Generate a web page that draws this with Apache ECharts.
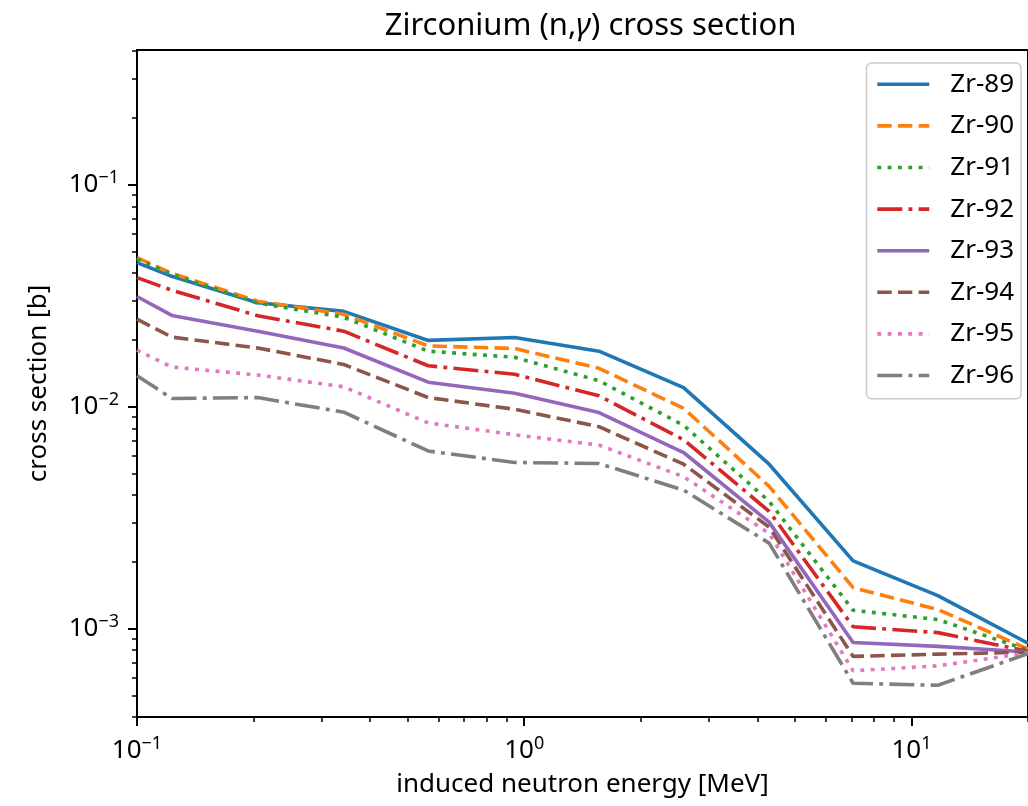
<!DOCTYPE html>
<html><head><meta charset="utf-8">
<script src="https://cdn.jsdelivr.net/npm/echarts@6/dist/echarts.min.js"></script>
<style>html,body{margin:0;padding:0;background:#fff}#c{width:1028px;height:806px}</style>
</head><body><div id="c"></div>
<script>
// induced neutron energy [MeV]
const energies = [0.1, 0.123, 0.205, 0.342, 0.565, 0.945, 1.56, 2.58, 4.29, 7.07, 11.7, 20];
// cross sections [b]
const zr89 = [0.0446, 0.0387, 0.0294, 0.0269, 0.0199, 0.0205, 0.0178, 0.0122, 0.00551, 0.00202, 0.00141, 0.00086];
const zr90 = [0.0470, 0.0399, 0.0299, 0.0261, 0.0188, 0.0183, 0.0149, 0.00984, 0.00438, 0.00153, 0.00122, 0.00081];
const zr91 = [0.0462, 0.0395, 0.0293, 0.0253, 0.0178, 0.0167, 0.0131, 0.00825, 0.00375, 0.00121, 0.00110, 0.00080];
const zr92 = [0.0382, 0.0335, 0.0257, 0.0219, 0.0153, 0.0140, 0.0112, 0.00710, 0.00338, 0.00102, 0.00096, 0.00079];
const zr93 = [0.0314, 0.0258, 0.0219, 0.0184, 0.0129, 0.0115, 0.00942, 0.00622, 0.00302, 0.000867, 0.000832, 0.000785];
const zr94 = [0.0248, 0.0206, 0.0184, 0.0155, 0.0110, 0.00974, 0.00813, 0.00551, 0.00287, 0.000750, 0.000768, 0.000784];
const zr95 = [0.0180, 0.0151, 0.0139, 0.0123, 0.00845, 0.00748, 0.00672, 0.00484, 0.00269, 0.000646, 0.000680, 0.000778];
const zr96 = [0.0138, 0.0109, 0.0110, 0.00945, 0.00632, 0.00561, 0.00555, 0.00421, 0.00243, 0.000568, 0.000556, 0.000772];
const seriesNames = ['Zr-89', 'Zr-90', 'Zr-91', 'Zr-92', 'Zr-93', 'Zr-94', 'Zr-95', 'Zr-96'];
const seriesValues = [zr89, zr90, zr91, zr92, zr93, zr94, zr95, zr96];
// tick values
const xMajorTicks = [0.1, 1, 10];
const xMinorTicks = [0.2, 0.3, 0.4, 0.5, 0.6, 0.7, 0.8, 0.9, 2, 3, 4, 5, 6, 7, 8, 9, 20];
const yMajorTicks = [0.001, 0.01, 0.1];
const yMinorTicks = [0.0004, 0.0005, 0.0006, 0.0007, 0.0008, 0.0009,
  0.002, 0.003, 0.004, 0.005, 0.006, 0.007, 0.008, 0.009,
  0.02, 0.03, 0.04, 0.05, 0.06, 0.07, 0.08, 0.09, 0.2, 0.3, 0.4];

const colors = ['#1f77b4', '#ff7f0e', '#2ca02c', '#d62728', '#9467bd', '#8c564b', '#e377c2', '#7f7f7f'];
const U = 2.6; // px per matplotlib dash unit
const dashes = ['solid', [3.7 * 1.5 * U, 1.6 * 1.5 * U], [1.5 * U, 2.475 * U], [9.6 * U, 2.4 * U, 1.5 * U, 2.4 * U]];
const FONT = 'Noto Sans';
const LW = 3.6;

function powLabel(v) {
  const l = Math.log10(v);
  const e = Math.round(l);
  if (Math.abs(l - e) > 1e-6) return '';
  return '10{sup|' + (e < 0 ? '\u2212' + (-e) : String(e)) + '}';
}
const labelStyle = {
  fontFamily: FONT, fontSize: 26, color: '#000', lineHeight: 32,
  formatter: powLabel,
  rich: { sup: { fontFamily: FONT, fontSize: 18, lineHeight: 18, verticalAlign: 'top', color: '#000' } }
};

const chart = echarts.init(document.getElementById('c'), null, { renderer: 'canvas' });
chart.setOption({
  animation: false,
  backgroundColor: '#fff',
  title: {
    text: 'Zirconium (n,{g|γ}) cross section',
    left: 585.5, top: 6, textAlign: 'center',
    textStyle: { fontFamily: FONT, fontSize: 31, fontWeight: 'normal', color: '#000',
      rich: { g: { fontFamily: FONT, fontSize: 31, fontStyle: 'italic', color: '#000' } } }
  },
  grid: { left: 137, top: 50, right: -6, bottom: 89, show: true, borderColor: '#000', borderWidth: 2 },
  legend: {
    orient: 'vertical', right: 7, top: 63,
    padding: [7, 7, 9, 9],
    backgroundColor: 'rgba(255,255,255,0.8)', borderColor: '#cccccc', borderWidth: 1.5, borderRadius: 5,
    itemWidth: 52, itemHeight: 14, itemGap: 13,
    itemStyle: { opacity: 0 },
    lineStyle: { width: LW },
    textStyle: { fontFamily: FONT, fontSize: 26, lineHeight: 28.6, color: '#000', padding: [0, 0, 0, 16] },
    data: seriesNames
  },
  xAxis: [{
    type: 'log', logBase: 10, min: 0.1, max: 20, gridIndex: 0, position: 'bottom',
    name: 'induced neutron energy [MeV]', nameLocation: 'middle', nameGap: 55,
    nameTextStyle: { fontFamily: FONT, fontSize: 26, color: '#000' },
    axisLine: { show: true, lineStyle: { color: '#000', width: 2 } },
    axisTick: { show: true, length: 9, customValues: xMajorTicks, lineStyle: { color: '#000', width: 2 } },
    axisLabel: Object.assign({ margin: 18, customValues: xMajorTicks }, labelStyle),
    splitLine: { show: false }, minorTick: { show: false }
  }, {
    type: 'log', logBase: 10, min: 0.1, max: 20, gridIndex: 0, position: 'bottom',
    axisLine: { show: false },
    axisTick: { show: true, length: 5, customValues: xMinorTicks, lineStyle: { color: '#000', width: 1.5 } },
    axisLabel: { show: false }, splitLine: { show: false }
  }],
  yAxis: [{
    type: 'log', logBase: 10, min: 0.0004, max: 0.405, gridIndex: 0, position: 'left',
    name: 'cross section [b]', nameLocation: 'middle', nameGap: 85, nameRotate: 90,
    nameTextStyle: { fontFamily: FONT, fontSize: 26, color: '#000' },
    axisLine: { show: true, lineStyle: { color: '#000', width: 2 } },
    axisTick: { show: true, length: 9, customValues: yMajorTicks, lineStyle: { color: '#000', width: 2 } },
    axisLabel: Object.assign({ margin: 18, customValues: yMajorTicks }, labelStyle),
    splitLine: { show: false }, minorTick: { show: false }
  }, {
    type: 'log', logBase: 10, min: 0.0004, max: 0.405, gridIndex: 0, position: 'left',
    axisLine: { show: false },
    axisTick: { show: true, length: 5, customValues: yMinorTicks, lineStyle: { color: '#000', width: 1.5 } },
    axisLabel: { show: false }, splitLine: { show: false }
  }],
  series: seriesNames.map((name, i) => ({
    name: name, type: 'line', xAxisIndex: 0, yAxisIndex: 0,
    symbol: 'none', showSymbol: false,
    data: energies.map((e, j) => [e, seriesValues[i][j]]),
    color: colors[i],
    lineStyle: { color: colors[i], width: LW, type: dashes[i % 4], cap: 'butt' },
    z: 2 + i
  }))
});
</script></body></html>
